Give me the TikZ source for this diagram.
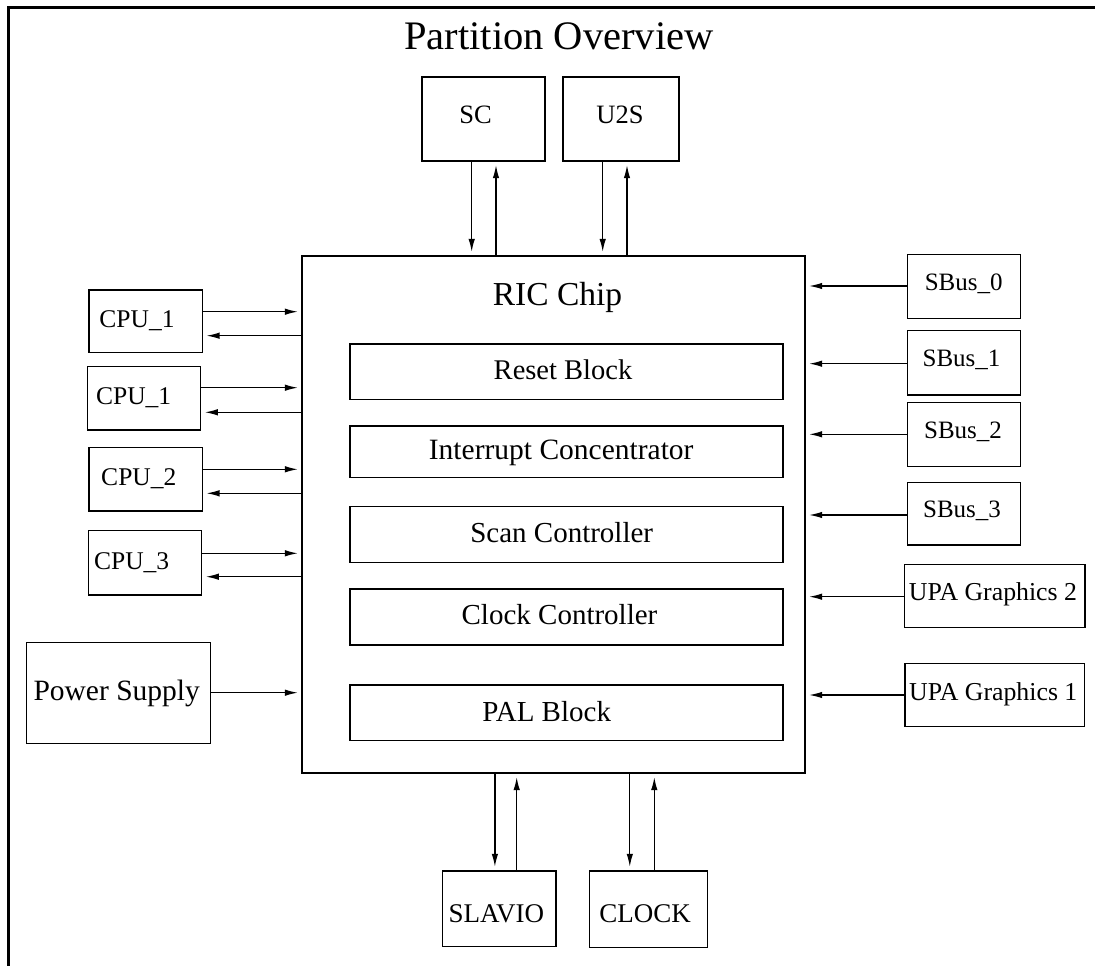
\documentclass[tikz,border=0pt]{standalone}
\usepackage{fontspec}
\setmainfont{Liberation Serif}
\usetikzlibrary{arrows.meta}
\tikzset{
  box/.style={draw, line width=1.3pt, inner sep=0pt, minimum width=#1},
  lbl/.style={inner sep=0pt, anchor=base},
  arr/.style={line width=1.3pt, -{Latex[length=13pt,width=6.5pt]}, shorten >=3.5pt},
  frame/.style={line width=3pt}
}
\newcommand{\fs}[1]{\fontsize{#1}{#1}\selectfont}
\begin{document}
\begin{tikzpicture}[x=1pt,y=-1pt]
\useasboundingbox (0,0) rectangle (1095,966);
\draw[frame] (8,966) -- (8,8) -- (1095,8);
\node[lbl, font=\fs{40.5}] (title) at (559,50) {Partition Overview};

% top boxes
\node[box=123pt, minimum height=84pt] (sc) at (483.5,119) {};
\node[lbl, font=\fs{26.5}] (scT) at (475.5,123.3) {SC};
\node[box=116pt, minimum height=84pt] (u2s) at (621,119) {};
\node[lbl, font=\fs{26.5}] (u2sT) at (620,123.3) {U2S};

% RIC chip
\node[box=503pt, minimum height=517pt] (ric) at (553.5,514.5) {};
\node[lbl, font=\fs{33.5}] (ricT) at (557.5,305) {RIC Chip};
\node[box=433pt, minimum height=55.3pt] (reset) at (566.5,371.7) {};
\node[lbl, font=\fs{28.5}] (resetT) at (563,379.3) {Reset Block};
\node[box=433pt, minimum height=51.7pt] (intc) at (566.5,451.8) {};
\node[lbl, font=\fs{29.5}] (intcT) at (561.2,459.3) {Interrupt Concentrator};
\node[box=433pt, minimum height=55.6pt] (scan) at (566.5,534.5) {};
\node[lbl, font=\fs{29}] (scanT) at (561.7,542.7) {Scan Controller};
\node[box=433pt, minimum height=56pt] (clkc) at (566.5,617) {};
\node[lbl, font=\fs{29}] (clkcT) at (559.5,624) {Clock Controller};
\node[box=433pt, minimum height=55.7pt] (pal) at (566.5,712.8) {};
\node[lbl, font=\fs{29}] (palT) at (546.7,721.7) {PAL Block};

% left boxes
\node[box=113.3pt, minimum height=62.7pt] (cpua) at (145.7,321.3) {};
\node[lbl, font=\fs{25.5}] (cpuaT) at (137,327.3) {CPU\_1};
\node[box=113pt, minimum height=63.3pt] (cpub) at (144.2,398.3) {};
\node[lbl, font=\fs{25.5}] (cpubT) at (133.7,404) {CPU\_1};
\node[box=113.3pt, minimum height=63.7pt] (cpuc) at (145.7,479.2) {};
\node[lbl, font=\fs{25.5}] (cpucT) at (138.8,485.7) {CPU\_2};
\node[box=113.4pt, minimum height=64.3pt] (cpud) at (145,562.8) {};
\node[lbl, font=\fs{25.5}] (cpudT) at (131.7,569.3) {CPU\_3};
\node[box=184pt, minimum height=101pt] (pwr) at (118.7,692.8) {};
\node[lbl, font=\fs{29.5}] (pwrT) at (116.7,700.7) {Power Supply};

% right boxes
\node[box=113.4pt, minimum height=64pt] (sb0) at (964,286.3) {};
\node[lbl, font=\fs{25}] (sb0T) at (963.7,290.7) {SBus\_0};
\node[box=113.4pt, minimum height=64.3pt] (sb1) at (964,362.8) {};
\node[lbl, font=\fs{25}] (sb1T) at (961.5,366.7) {SBus\_1};
\node[box=113.4pt, minimum height=64pt] (sb2) at (964,434.7) {};
\node[lbl, font=\fs{25}] (sb2T) at (963,438.3) {SBus\_2};
\node[box=113.4pt, minimum height=62.7pt] (sb3) at (964,513.7) {};
\node[lbl, font=\fs{25}] (sb3T) at (962,517.7) {SBus\_3};
\node[box=180.7pt, minimum height=63.4pt] (upa2) at (994.7,596) {};
\node[lbl, font=\fs{25.8}] (upa2T) at (993,600.7) {UPA Graphics 2};
\node[box=179.3pt, minimum height=63.4pt] (upa1) at (994.7,695) {};
\node[lbl, font=\fs{25.8}] (upa1T) at (993.3,700) {UPA Graphics 1};

% bottom boxes
\node[box=113.6pt, minimum height=75.7pt] (slavio) at (499.1,908.8) {};
\node[lbl, font=\fs{27}] (slavioT) at (496.4,922.7) {SLAVIO};
\node[box=118pt, minimum height=76.7pt] (clock) at (648.3,909.3) {};
\node[lbl, font=\fs{27}] (clockT) at (645,922.7) {CLOCK};

% top arrows
\draw[arr] (sc.south -| 471.7,0) -- (ric.north -| 471.7,0);
\draw[arr] (ric.north -| 496,0) -- (sc.south -| 496,0);
\draw[arr] (u2s.south -| 602.7,0) -- (ric.north -| 602.7,0);
\draw[arr] (ric.north -| 627,0) -- (u2s.south -| 627,0);

% bottom arrows
\draw[arr] (ric.south -| 494.9,0) -- (slavio.north -| 494.9,0);
\draw[arr] (slavio.north -| 516.7,0) -- (ric.south -| 516.7,0);
\draw[arr] (ric.south -| 629.8,0) -- (clock.north -| 629.8,0);
\draw[arr] (clock.north -| 654.3,0) -- (ric.south -| 654.3,0);

% left arrows
\draw[arr] (cpua.east |- 0,311.7) -- (ric.west |- 0,311.7);
\draw[arr] (ric.west |- 0,335.7) -- (cpua.east |- 0,335.7);
\draw[arr] (cpub.east |- 0,387.7) -- (ric.west |- 0,387.7);
\draw[arr] (ric.west |- 0,412.3) -- (cpub.east |- 0,412.3);
\draw[arr] (cpuc.east |- 0,469.3) -- (ric.west |- 0,469.3);
\draw[arr] (ric.west |- 0,493.3) -- (cpuc.east |- 0,493.3);
\draw[arr] (cpud.east |- 0,553.3) -- (ric.west |- 0,553.3);
\draw[arr] (ric.west |- 0,576.7) -- (cpud.east |- 0,576.7);
\draw[arr] (pwr.east |- 0,692.7) -- (ric.west |- 0,692.7);

% right arrows
\draw[arr] (sb0.west |- 0,286) -- (ric.east |- 0,286);
\draw[arr] (sb1.west |- 0,363.7) -- (ric.east |- 0,363.7);
\draw[arr] (sb2.west |- 0,434.3) -- (ric.east |- 0,434.3);
\draw[arr] (sb3.west |- 0,515) -- (ric.east |- 0,515);
\draw[arr] (upa2.west |- 0,596.7) -- (ric.east |- 0,596.7);
\draw[arr] (upa1.west |- 0,695) -- (ric.east |- 0,695);
\end{tikzpicture}
\end{document}
